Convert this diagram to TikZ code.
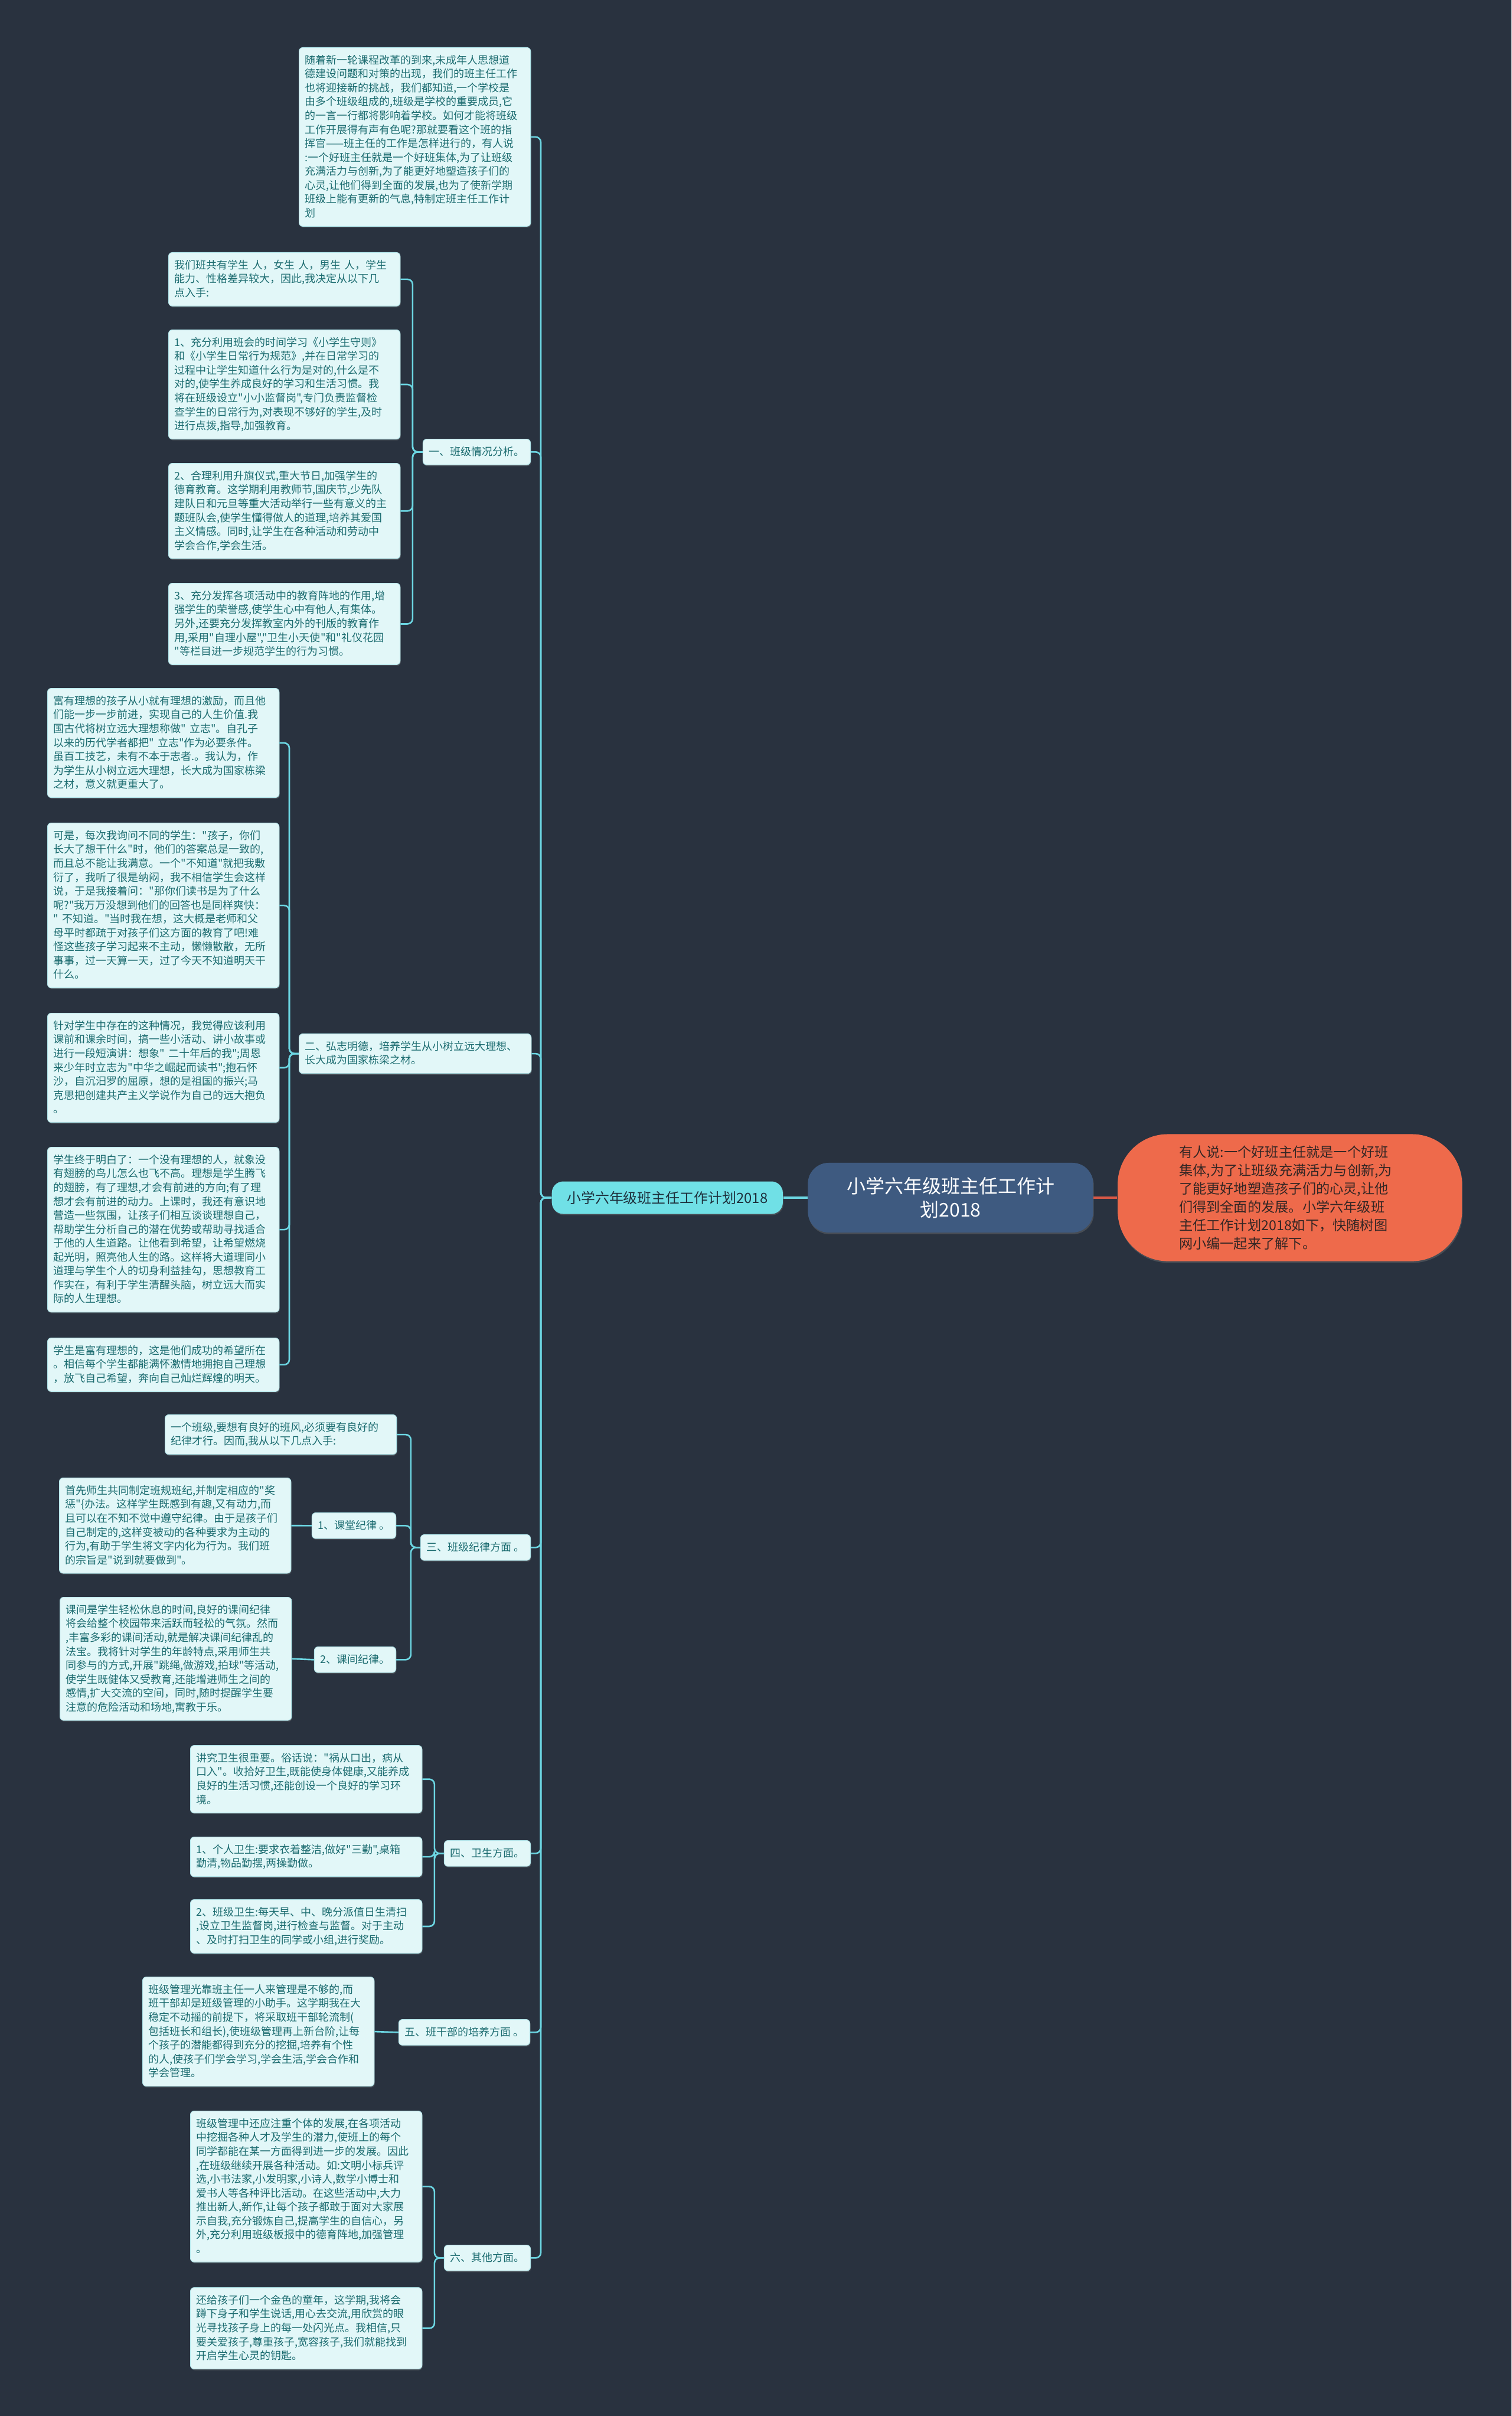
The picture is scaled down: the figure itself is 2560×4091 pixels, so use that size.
\documentclass[tikz,border=0pt]{standalone}
\usepackage{fontspec}
\newfontfamily\cjkfont{Noto Sans CJK SC}
\usepackage{xcolor}
\definecolor{MapBack}{RGB}{41, 50, 63}
\definecolor{MapLine}{RGB}{108, 214, 226}
\definecolor{LeafFill}{RGB}{226, 247, 248}
\definecolor{LeafEdge}{RGB}{178, 228, 233}
\definecolor{LeafText}{RGB}{28, 108, 112}
\definecolor{PlanFill}{RGB}{112, 224, 230}
\definecolor{PlanText}{RGB}{30, 48, 60}
\definecolor{RootFill}{RGB}{62, 90, 128}
\definecolor{NoteFill}{RGB}{238, 106, 75}
\definecolor{NoteText}{RGB}{52, 38, 36}
\definecolor{NoteLine}{RGB}{214, 88, 70}
\usetikzlibrary{shapes, positioning, shadows, backgrounds}
\newcommand{\leaffont}{\cjkfont\fontsize{5.12pt}{6.7pt}\selectfont}

\begin{document}
\begin{tikzpicture}[
        x=0.01cm, y=-0.01cm,
        card/.style={rectangle, draw=LeafEdge, line width=0.3pt, fill=LeafFill, text=LeafText, rounded corners=1.8pt, inner xsep=0.1cm, inner ysep=0.116cm, font=\leaffont, execute at begin node={\rule{0pt}{4.6pt}}, execute at end node={\rule[-1.2pt]{0pt}{1.2pt}}, drop shadow={opacity=0.35, shadow xshift=0.3pt, shadow yshift=-0.6pt}},
        leafbox/.style={card, anchor=north west, text width=3.72cm, align=left},
        topic/.style={card, anchor=north east},
        plan/.style={rectangle, fill=PlanFill, text=PlanText, rounded corners=5.5pt, minimum width=3.91cm, minimum height=0.55cm, inner sep=0pt, font=\cjkfont\fontsize{6.8pt}{8pt}\selectfont, drop shadow={opacity=0.35, shadow xshift=0.3pt, shadow yshift=-0.6pt}},
        rootbox/.style={rectangle, fill=RootFill, text=white, rounded corners=10pt, minimum width=4.83cm, minimum height=1.18cm, align=center, font=\cjkfont\fontsize{9.1pt}{11.4pt}\selectfont, drop shadow={opacity=0.35, shadow xshift=0.3pt, shadow yshift=-0.8pt}},
        notebox/.style={rectangle, fill=NoteFill, text=NoteText, rounded corners=0.85cm, minimum width=5.83cm, minimum height=2.15cm, text width=3.75cm, align=left, font=\cjkfont\fontsize{6.6pt}{8.8pt}\selectfont, drop shadow={opacity=0.35, shadow xshift=0.3pt, shadow yshift=-0.8pt}},
        link/.style={MapLine, line width=0.75pt, rounded corners=2.5pt}
    ]
        \fill[MapBack] (0,0) rectangle (2560,4091);
        \useasboundingbox (0,0) rectangle (2560,4091);

        % Centre
        \node[rootbox] (root) at (1610,2028) {小学六年级班主任工作计\\划2018};
        \node[plan, left=0.41cm of root] (plan) {小学六年级班主任工作计划2018};
        \node[notebox, right=0.4cm of root] (summary) {有人说:一个好班主任就是一个好班\\
            集体,为了让班级充满活力与创新,为\\
            了能更好地塑造孩子们的心灵,让他\\
            们得到全面的发展。小学六年级班\\
            主任工作计划2018如下，快随树图\\
            网小编一起来了解下。};

        % Intro
        \node[leafbox] (intro) at (506,80) {随着新一轮课程改革的到来,未成年人思想道\\
            德建设问题和对策的出现，我们的班主任工作\\
            也将迎接新的挑战，我们都知道,一个学校是\\
            由多个班级组成的,班级是学校的重要成员,它\\
            的一言一行都将影响着学校。如何才能将班级\\
            工作开展得有声有色呢?那就要看这个班的指\\
            挥官——班主任的工作是怎样进行的，有人说\\
            :一个好班主任就是一个好班集体,为了让班级\\
            充满活力与创新,为了能更好地塑造孩子们的\\
            心灵,让他们得到全面的发展,也为了使新学期\\
            班级上能有更新的气息,特制定班主任工作计\\
            划};

        % Part one
        \node[topic] (one) at (899,743) {一、班级情况分析。};
        \node[leafbox] (s1a) at (285,427) {我们班共有学生 人，女生 人，男生 人，学生\\
            能力、性格差异较大，因此,我决定从以下几\\
            点入手:};
        \node[leafbox] (s1b) at (285,558) {1、充分利用班会的时间学习《小学生守则》\\
            和《小学生日常行为规范》,并在日常学习的\\
            过程中让学生知道什么行为是对的,什么是不\\
            对的,使学生养成良好的学习和生活习惯。我\\
            将在班级设立"小小监督岗",专门负责监督检\\
            查学生的日常行为,对表现不够好的学生,及时\\
            进行点拨,指导,加强教育。};
        \node[leafbox] (s1c) at (285,784) {2、合理利用升旗仪式,重大节日,加强学生的\\
            德育教育。这学期利用教师节,国庆节,少先队\\
            建队日和元旦等重大活动举行一些有意义的主\\
            题班队会,使学生懂得做人的道理,培养其爱国\\
            主义情感。同时,让学生在各种活动和劳动中\\
            学会合作,学会生活。};
        \node[leafbox] (s1d) at (285,987) {3、充分发挥各项活动中的教育阵地的作用,增\\
            强学生的荣誉感,使学生心中有他人,有集体。\\
            另外,还要充分发挥教室内外的刊版的教育作\\
            用,采用"自理小屋","卫生小天使"和"礼仪花园\\
            "等栏目进一步规范学生的行为习惯。};

        % Part two
        \node[topic, anchor=north west, text width=3.73cm, align=left] (two) at (506,1750) {二、弘志明德，培养学生从小树立远大理想、\\长大成为国家栋梁之材。};
        \node[leafbox] (s2a) at (80,1165) {富有理想的孩子从小就有理想的激励，而且他\\
            们能一步一步前进，实现自己的人生价值.我\\
            国古代将树立远大理想称做" 立志"。自孔子\\
            以来的历代学者都把" 立志"作为必要条件。\\
            虽百工技艺，未有不本于志者.。我认为，作\\
            为学生从小树立远大理想，长大成为国家栋梁\\
            之材，意义就更重大了。};
        \node[leafbox] (s2b) at (80,1393) {可是，每次我询问不同的学生："孩子，你们\\
            长大了想干什么"时，他们的答案总是一致的,\\
            而且总不能让我满意。一个"不知道"就把我敷\\
            衍了，我听了很是纳闷，我不相信学生会这样\\
            说，于是我接着问："那你们读书是为了什么\\
            呢?"我万万没想到他们的回答也是同样爽快：\\
            " 不知道。"当时我在想，这大概是老师和父\\
            母平时都疏于对孩子们这方面的教育了吧!难\\
            怪这些孩子学习起来不主动，懒懒散散，无所\\
            事事，过一天算一天，过了今天不知道明天干\\
            什么。};
        \node[leafbox] (s2c) at (80,1715) {针对学生中存在的这种情况，我觉得应该利用\\
            课前和课余时间，搞一些小活动、讲小故事或\\
            进行一段短演讲：想象" 二十年后的我";周恩\\
            来少年时立志为"中华之崛起而读书";抱石怀\\
            沙，自沉汨罗的屈原，想的是祖国的振兴;马\\
            克思把创建共产主义学说作为自己的远大抱负\\
            。};
        \node[leafbox] (s2d) at (80,1942) {学生终于明白了：一个没有理想的人，就象没\\
            有翅膀的鸟儿怎么也飞不高。理想是学生腾飞\\
            的翅膀，有了理想,才会有前进的方向;有了理\\
            想才会有前进的动力。上课时，我还有意识地\\
            营造一些氛围，让孩子们相互谈谈理想自己，\\
            帮助学生分析自己的潜在优势或帮助寻找适合\\
            于他的人生道路。让他看到希望，让希望燃烧\\
            起光明，照亮他人生的路。这样将大道理同小\\
            道理与学生个人的切身利益挂勾，思想教育工\\
            作实在，有利于学生清醒头脑，树立远大而实\\
            际的人生理想。};
        \node[leafbox] (s2e) at (80,2265) {学生是富有理想的，这是他们成功的希望所在\\
            。相信每个学生都能满怀激情地拥抱自己理想\\
            ，放飞自己希望，奔向自己灿烂辉煌的明天。};

        % Part three
        \node[topic] (three) at (899,2598) {三、班级纪律方面 。};
        \node[leafbox] (s3a) at (279,2395) {一个班级,要想有良好的班风,必须要有良好的\\
            纪律才行。因而,我从以下几点入手:};
        \node[topic] (disc1) at (671,2561) {1、课堂纪律 。};
        \node[leafbox] (s3b) at (100,2502) {首先师生共同制定班规班纪,并制定相应的"奖\\
            惩"\{办法。这样学生既感到有趣,又有动力,而\\
            且可以在不知不觉中遵守纪律。由于是孩子们\\
            自己制定的,这样变被动的各种要求为主动的\\
            行为,有助于学生将文字内化为行为。我们班\\
            的宗旨是"说到就要做到"。};
        \node[topic] (disc2) at (671,2788) {2、课间纪律。};
        \node[leafbox] (s3c) at (101,2704) {课间是学生轻松休息的时间,良好的课间纪律\\
            将会给整个校园带来活跃而轻松的气氛。然而\\
            ,丰富多彩的课间活动,就是解决课间纪律乱的\\
            法宝。我将针对学生的年龄特点,采用师生共\\
            同参与的方式,开展"跳绳,做游戏,拍球"等活动,\\
            使学生既健体又受教育,还能增进师生之间的\\
            感情,扩大交流的空间，同时,随时提醒学生要\\
            注意的危险活动和场地,寓教于乐。};

        % Part four
        \node[topic] (four) at (899,3116) {四、卫生方面。};
        \node[leafbox] (s4a) at (322,2955) {讲究卫生很重要。俗话说："祸从口出，病从\\
            口入"。收拾好卫生,既能使身体健康,又能养成\\
            良好的生活习惯,还能创设一个良好的学习环\\
            境。};
        \node[leafbox] (s4b) at (322,3110) {1、个人卫生:要求衣着整洁,做好"三勤",桌箱\\
            勤清,物品勤摆,两操勤做。};
        \node[leafbox] (s4c) at (322,3216) {2、班级卫生:每天早、中、晚分派值日生清扫\\
            ,设立卫生监督岗,进行检查与监督。对于主动\\
            、及时打扫卫生的同学或小组,进行奖励。};

        % Part five
        \node[topic] (five) at (898,3419) {五、班干部的培养方面 。};
        \node[leafbox] (s5a) at (241,3347) {班级管理光靠班主任一人来管理是不够的,而\\
            班干部却是班级管理的小助手。这学期我在大\\
            稳定不动摇的前提下，将采取班干部轮流制(\\
            包括班长和组长),使班级管理再上新台阶,让每\\
            个孩子的潜能都得到充分的挖掘,培养有个性\\
            的人,使孩子们学会学习,学会生活,学会合作和\\
            学会管理。};

        % Part six
        \node[topic] (six) at (899,3801) {六、其他方面。};
        \node[leafbox] (s6a) at (322,3574) {班级管理中还应注重个体的发展,在各项活动\\
            中挖掘各种人才及学生的潜力,使班上的每个\\
            同学都能在某一方面得到进一步的发展。因此\\
            ,在班级继续开展各种活动。如:文明小标兵评\\
            选,小书法家,小发明家,小诗人,数学小博士和\\
            爱书人等各种评比活动。在这些活动中,大力\\
            推出新人,新作,让每个孩子都敢于面对大家展\\
            示自我,充分锻炼自己,提高学生的自信心，另\\
            外,充分利用班级板报中的德育阵地,加强管理\\
            。};
        \node[leafbox] (s6b) at (322,3873) {还给孩子们一个金色的童年，这学期,我将会\\
            蹲下身子和学生说话,用心去交流,用欣赏的眼\\
            光寻找孩子身上的每一处闪光点。我相信,只\\
            要关爱孩子,尊重孩子,宽容孩子,我们就能找到\\
            开启学生心灵的钥匙。};

        % Connections
        \draw[link, line width=1.3pt] (root.west) -- (plan.east);
        \draw[NoteLine, line width=1.3pt] (root.east) -- (summary.west);
        \foreach \br in {intro,one,two,three,four,five,six}
            \draw[link] (plan.west) -- ++(-18,0) |- (\br.east);
        \foreach \kid in {s1a,s1b,s1c,s1d}
            \draw[link] (one.west) -- ++(-17,0) |- (\kid.east);
        \foreach \kid in {s2a,s2b,s2c,s2d,s2e}
            \draw[link] (two.west) -- ++(-16,0) |- (\kid.east);
        \foreach \kid in {s3a,disc1,disc2}
            \draw[link] (three.west) -- ++(-16,0) |- (\kid.east);
        \draw[link] (disc1.west) -- (s3b.east);
        \draw[link] (disc2.west) -- (s3c.east);
        \foreach \kid in {s4a,s4b,s4c}
            \draw[link] (four.west) -- ++(-16,0) |- (\kid.east);
        \draw[link] (five.west) -- (s5a.east);
        \foreach \kid in {s6a,s6b}
            \draw[link] (six.west) -- ++(-16,0) |- (\kid.east);

    \end{tikzpicture}
\end{document}
